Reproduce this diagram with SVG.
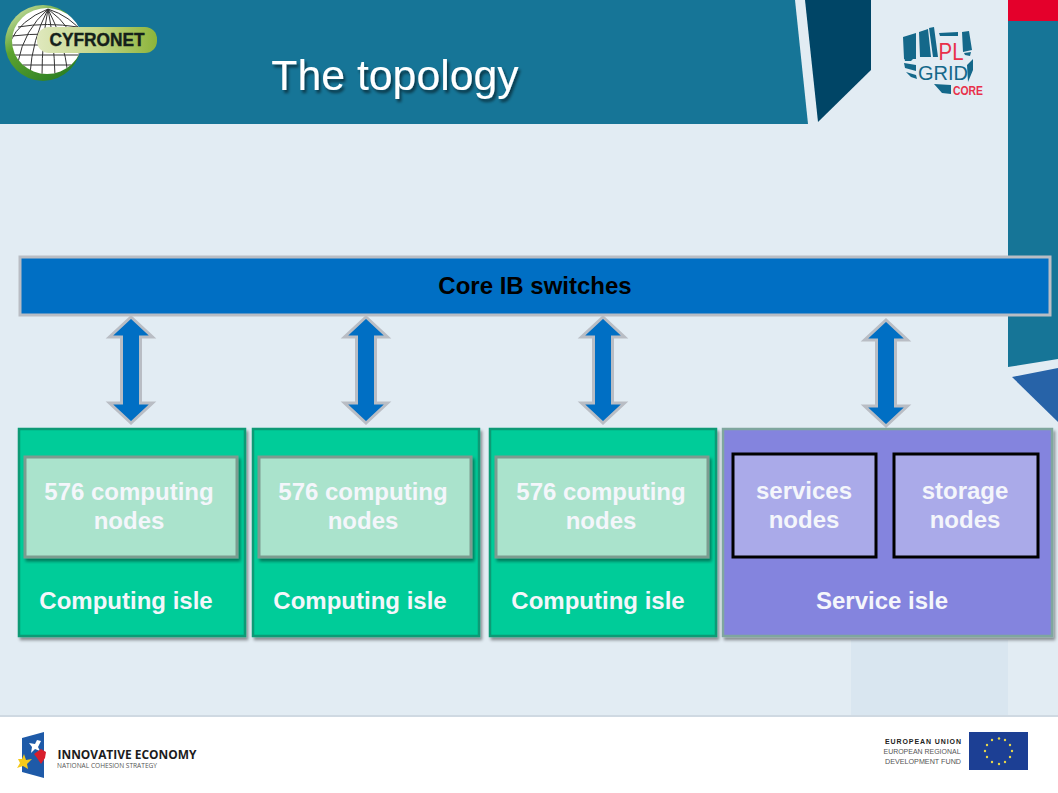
<svg xmlns="http://www.w3.org/2000/svg" width="1058" height="793" viewBox="0 0 1058 793">
<defs>
<style>
text{font-family:"Liberation Sans",Arial,sans-serif;text-anchor:middle}
.lab{font-size:24px;font-weight:bold;fill:#f4f6fb}
.isle{stroke-width:2.500}
.green{fill:#00cc99;stroke:#079a75}
.inner{fill:#aae3cc;stroke:#7c9c90;stroke-width:3}
.pur{fill:#aaaae9;stroke:#000;stroke-width:3}
.arrow{fill:#006fc4;stroke:#b9bdc4;stroke-width:3}
.pl{fill:#14688a}
</style>
<filter id="sh" x="-5%" y="-5%" width="112%" height="112%"><feDropShadow dx="2" dy="3" stdDeviation="1.500" flood-color="#000" flood-opacity=".4"/></filter>
<filter id="ts" x="-5%" y="-10%" width="110%" height="130%"><feDropShadow dx="2" dy="3" stdDeviation="1.500" flood-color="#000" flood-opacity=".55"/></filter>
<linearGradient id="lg" x1="0" y1="0" x2="1" y2="0"><stop offset="0" stop-color="#dfe8bd"/><stop offset=".5" stop-color="#c3d68a"/><stop offset="1" stop-color="#8cb43a"/></linearGradient>
<linearGradient id="rg" x1="0" y1="0" x2=".7" y2="1"><stop offset="0" stop-color="#e3ecc0"/><stop offset=".45" stop-color="#5da32f"/><stop offset="1" stop-color="#2c7f24"/></linearGradient>
<clipPath id="gc"><ellipse cx="47" cy="41" rx="35" ry="33"/></clipPath>
<symbol id="arr" overflow="visible"><path class="arrow" d="M0,-53 L21.500,-33 L9.500,-33 L9.500,33 L21.500,33 L0,53 L-21.500,33 L-9.500,33 L-9.500,-33 L-21.500,-33 Z"/></symbol>
</defs>

<g id="background">
<rect width="1058" height="793" fill="#e2ecf3"/>
<rect x="851" y="640" width="157" height="76" fill="#d9e6f0"/>
<path d="M0,0H795L808,124H0Z" fill="#167597"/>
<path d="M805,0H871V70L818,122Z" fill="#004566"/>
<rect x="1008" y="0" width="50" height="21" fill="#e4002b"/>
<path d="M1008,21H1058V359L1008,367Z" fill="#167597"/>
<path d="M1012,377L1058,368V422Z" fill="#2763a8"/>
<rect y="716" width="1058" height="77" fill="#fff"/>
<rect y="715" width="1058" height="2" fill="#cfd9e2"/>
</g>

<g id="logo-cyfronet">
<circle cx="43" cy="43" r="38" fill="url(#rg)"/>
<ellipse cx="47" cy="41" rx="35" ry="33" fill="#fff"/>
<g fill="none" stroke="#333" stroke-width="1" clip-path="url(#gc)">
<path d="M48,9Q20,20 10,42M48,9Q24,30 18,62M48,9Q32,40 30,74M48,9Q42,40 42,76M48,9Q54,40 55,76M48,9Q64,40 68,74M48,9Q74,28 80,56M48,9Q70,16 84,34"/>
<path d="M18,27Q47,22 78,27M12,36Q47,32 82,36M12,45H82M14,55H82M20,65H78"/>
</g>
<rect x="37" y="27" width="120" height="26" rx="12" fill="url(#lg)"/>
<text x="97" y="46" font-size="18" font-weight="bold" fill="#14201a" stroke="#14201a" stroke-width=".4" textLength="95" lengthAdjust="spacingAndGlyphs">CYFRONET</text>
</g>

<g id="title"><text x="395" y="90" font-size="42.800" fill="#fff" filter="url(#ts)">The topology</text></g>

<g id="logo-plgrid">
<path class="pl" d="M903,37L916,33V59H904ZM919,32L928,29L931,57H920ZM929,28L934,27L938,57H933ZM939,33L958,32V36L940,36ZM962,32L969,31L972,50L963,52ZM964,53L971,52L970,56L965,55ZM904,57H915L911,61H905ZM904,63L916,65V71L905,68ZM906,72L916,75L917,79L911,77ZM973,59V70L968,82L967,65ZM934,84L951,85V94L942,93Z"/>
<text x="951" y="60" font-size="24" fill="#e8304a" textLength="25" lengthAdjust="spacingAndGlyphs">PL</text>
<text x="943" y="80" font-size="21" fill="#14688a" textLength="50" lengthAdjust="spacingAndGlyphs">GRID</text>
<text x="968" y="95" font-size="13" font-weight="bold" fill="#e8304a" textLength="30" lengthAdjust="spacingAndGlyphs">CORE</text>
</g>

<g id="connectors">
<use href="#arr" x="131" y="370"/>
<use href="#arr" x="366" y="370"/>
<use href="#arr" x="603" y="370"/>
<use href="#arr" x="886" y="373"/>
</g>

<g id="core-switches">
<rect x="20" y="257" width="1030" height="58" fill="#006fc4" stroke="#b9bdc4" stroke-width="3"/>
<text x="535" y="294" font-size="24" font-weight="bold" fill="#000">Core IB switches</text>
</g>

<g id="isle-1">
<rect class="isle green" x="19" y="429" width="226" height="207" filter="url(#sh)"/>
<rect class="inner" x="25" y="457" width="212" height="100" filter="url(#sh)"/>
<text class="lab" x="129" y="500">576 computing</text><text class="lab" x="129" y="529">nodes</text>
<text class="lab" x="126" y="609">Computing isle</text>
</g>
<g id="isle-2">
<rect class="isle green" x="253" y="429" width="226" height="207" filter="url(#sh)"/>
<rect class="inner" x="259" y="457" width="212" height="100" filter="url(#sh)"/>
<text class="lab" x="363" y="500">576 computing</text><text class="lab" x="363" y="529">nodes</text>
<text class="lab" x="360" y="609">Computing isle</text>
</g>
<g id="isle-3">
<rect class="isle green" x="490" y="429" width="226" height="207" filter="url(#sh)"/>
<rect class="inner" x="496" y="457" width="212" height="100" filter="url(#sh)"/>
<text class="lab" x="601" y="500">576 computing</text><text class="lab" x="601" y="529">nodes</text>
<text class="lab" x="598" y="609">Computing isle</text>
</g>
<g id="service-isle">
<rect class="isle" x="723" y="429" width="329" height="207" fill="#8484de" stroke="#7fa69e" filter="url(#sh)"/>
<rect class="pur" x="733" y="454" width="143" height="103"/>
<text class="lab" x="804" y="499">services</text><text class="lab" x="804" y="528">nodes</text>
<rect class="pur" x="894" y="454" width="144" height="103"/>
<text class="lab" x="965" y="499">storage</text><text class="lab" x="965" y="528">nodes</text>
<text class="lab" x="882" y="609">Service isle</text>
</g>

<g id="logo-innovative">
<path d="M22,738L44,732V778L22,772Z" fill="#1e5aa8"/>
<path d="M41,741L38,747L40,751L35,749L31,753L32,747L29,743L35,744L37,740Z" fill="#fff"/>
<path d="M24,754L26,760L32,759L27,764L28,769L23,766L17,768L20,763L18,759L22,759Z" fill="#f5c91a"/>
<path d="M41,749L46,752L45,758L41,764L37,758L34,754Z" fill="#d81e2c"/>
<text x="127" y="759" font-size="12.500" font-weight="bold" fill="#1c1c1c" textLength="139" lengthAdjust="spacingAndGlyphs" style="font-family:'Open Sans',sans-serif">INNOVATIVE ECONOMY</text>
<text x="107" y="768" font-size="6.500" fill="#555" textLength="100" lengthAdjust="spacingAndGlyphs" style="font-family:'Open Sans',sans-serif">NATIONAL COHESION STRATEGY</text>
</g>

<g id="logo-eu">
<text x="923" y="744" font-size="7" font-weight="bold" fill="#222" textLength="76" lengthAdjust="spacing">EUROPEAN UNION</text>
<text x="922" y="754" font-size="7.500" fill="#555" textLength="77" lengthAdjust="spacingAndGlyphs">EUROPEAN REGIONAL</text>
<text x="923" y="764" font-size="7.500" fill="#555" textLength="76" lengthAdjust="spacingAndGlyphs">DEVELOPMENT FUND</text>
<rect x="969" y="732" width="59" height="38" fill="#1c3f94"/>
<g fill="#e8d84a">
<circle cx="999" cy="738.500" r="1.200"/><circle cx="1005" cy="740" r="1.200"/><circle cx="1010" cy="745" r="1.200"/><circle cx="1012" cy="751" r="1.200"/><circle cx="1010" cy="757" r="1.200"/><circle cx="1005" cy="762" r="1.200"/><circle cx="999" cy="764" r="1.200"/><circle cx="992" cy="762" r="1.200"/><circle cx="987" cy="757" r="1.200"/><circle cx="985" cy="751" r="1.200"/><circle cx="987" cy="745" r="1.200"/><circle cx="992" cy="740" r="1.200"/>
</g>
</g>
</svg>
